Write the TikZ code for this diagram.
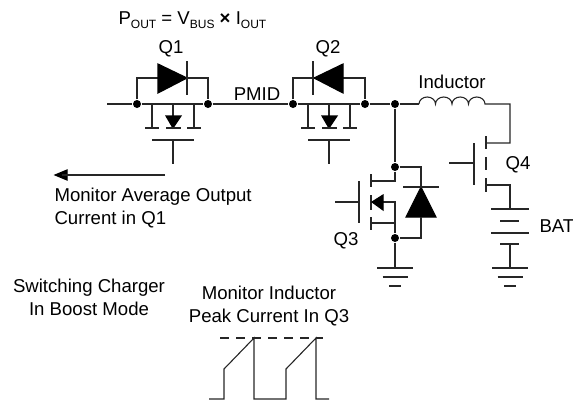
\documentclass[tikz,border=0pt]{standalone}
\usepackage{fontspec}
\setmainfont{Liberation Sans}
\newcommand{\subtxt}[1]{\raisebox{-0.35ex}{\fontsize{12}{12}\selectfont #1}}
\begin{document}
\begin{tikzpicture}[%
    x=1pt, y=-1pt,
    line width=1.1pt,
    ]
% -------------------------------------------------
% A few styles
\tikzset{
  dot/.style={circle, fill=black, inner sep=0pt, minimum size=8pt},
  lbl/.style={inner sep=0pt, font=\fontsize{18.6}{23}\selectfont, align=center},
  tri/.style={fill=black, draw=black, line join=miter},
  wire/.style={draw=black!85}
}
\useasboundingbox (0,0) rectangle (573,402);
% -------------------------------------------------
% Junctions on the main rail
\node [dot] (d1) at (137,104) {};
\node [dot] (d2) at (208,104) {};
\node [dot] (d3) at (293,104) {};
\node [dot] (d4) at (365,104) {};
\node [dot] (d5) at (395,104) {};
\node [dot] (d6) at (395,167) {};
\node [dot] (d7) at (395,238) {};
\coordinate (in) at (107,104);
\coordinate (indA) at (419,104);
\coordinate (q4top) at (510,143);
\coordinate (q4bot) at (510,185);
\coordinate (batP) at (510,209);
\coordinate (batN) at (510,244);
\coordinate (gnd3) at (395,268);
\coordinate (gnd4) at (510,268);

% Rail and inductor
\draw [wire] (in) -- (d1) -- (d2) -- (d3) -- (d4) -- (d5) -- (indA);
\draw [wire] (indA) foreach \i in {1,...,4} {arc (180:0:8.25pt and 7pt)}
  -- (510,104) -- (q4top) -- (486,143);

% -------------------------------------------------
% Q1
\draw [wire] (d1) |- (187,78);
\draw [wire] (187,78) -| (d2);
\fill [tri] (158,64) -- (187,78) -- (158,93) -- cycle;
\draw [wire] (187,61) -- (187,95);
\draw [wire] (152,104) -- (152,128);
\draw [wire] (194,104) -- (194,128);
\draw [wire] (173,104) -- (173,116);
\fill [tri] (166,116) -- (181,116) -- (173,128) -- cycle;
\draw [wire] (145,128) -- (159,128) (166,128) -- (181,128) (187,128) -- (201,128);
\draw [wire] (152,140) -- (194,140) (173,140) -- (173,164);

% Q2
\draw [wire] (d3) |- (313,78);
\draw [wire] (313,78) -| (d4);
\fill [tri] (343,64) -- (314,78) -- (343,93) -- cycle;
\draw [wire] (313,61) -- (313,95);
\draw [wire] (308,104) -- (308,128);
\draw [wire] (350,104) -- (350,128);
\draw [wire] (329,104) -- (329,116);
\fill [tri] (322,116) -- (337,116) -- (329,128) -- cycle;
\draw [wire] (301,128) -- (315,128) (322,128) -- (337,128) (343,128) -- (357,128);
\draw [wire] (308,140) -- (350,140) (329,140) -- (329,164);

% Q3
\draw [wire] (d5) -- (d6) -- (395,181) -- (371,181);
\draw [wire] (371,174) -- (371,187) (371,195) -- (371,210) (371,217) -- (371,230);
\draw [wire] (371,223) -- (395,223);
\draw [wire] (383,202) -- (395,202) -- (d7) -- (gnd3);
\fill [tri] (383,195) -- (372,202) -- (383,210) -- cycle;
\draw [wire] (359,181) -- (359,223) (335,202) -- (359,202);
\draw [wire] (d6) -| (421,187);
\fill [tri] (421,187) -- (406,217) -- (436,217) -- cycle;
\draw [wire] (403,187) -- (439,187);
\draw [wire] (421,217) |- (d7);

% Q4
\draw [wire] (486,136) -- (486,149) (486,157) -- (486,170) (486,178) -- (486,192);
\draw [wire] (486,185) -- (q4bot) -- (batP);
\draw [wire] (474,143) -- (474,185) (449,163) -- (474,163);

% Battery
\draw [wire] (491,209) -- (529,209) (500,221) -- (519,221)
  (491,233) -- (529,233) (500,244) -- (519,244);
\draw [wire] (batN) -- (gnd4);

% Grounds
\foreach \g in {gnd3,gnd4} {
  \draw [wire] ([xshift=-18pt]\g) -- ([xshift=18pt]\g)
    ([xshift=-12.5pt,yshift=-9pt]\g) -- ([xshift=12.5pt,yshift=-9pt]\g)
    ([xshift=-6pt,yshift=-18pt]\g) -- ([xshift=6pt,yshift=-18pt]\g);
}

% Arrow
\coordinate (arrR) at (165,175);
\coordinate (arrL) at (55,175);
\fill [tri] (arrL) -- (67,170) -- (67,180) -- cycle;
\draw [wire] (arrR) -- (62,175);

% Waveform
\draw [wire, dash pattern=on 9pt off 7pt] (220,338) -- (323,338);
\draw [wire, line join=miter] (209,399) -- (224,399) -- (224,369) -- (254,338) -- (254,399)
  -- (286,399) -- (286,369) -- (316,338) -- (316,399) -- (329,399);

% -------------------------------------------------
% Labels
\node [lbl, anchor=west] (pout) at (118,20)
  {P\subtxt{OUT} = V\subtxt{BUS} \textbf{×} I\subtxt{OUT}};
\node [lbl] (q1) at (171,49) {Q1};
\node [lbl] (q2) at (328,49) {Q2};
\node [lbl] (pmid) at (257,94) {PMID};
\node [lbl] (ind) at (452,82) {Inductor};
\node [lbl] (q4) at (518,165) {Q4};
\node [lbl] (q3) at (346,241) {Q3};
\node [lbl, anchor=west] (bat) at (539,226) {BAT};
\node [lbl, anchor=west, align=left] (mon1) at (54,208) {Monitor Average Output\\Current in Q1};
\node [lbl] (sw) at (89,297) {Switching Charger\\In Boost Mode};
\node [lbl] (mon2) at (269,306) {Monitor Inductor\\Peak Current In Q3};
% -------------------------------------------------
\end{tikzpicture}
\end{document}
